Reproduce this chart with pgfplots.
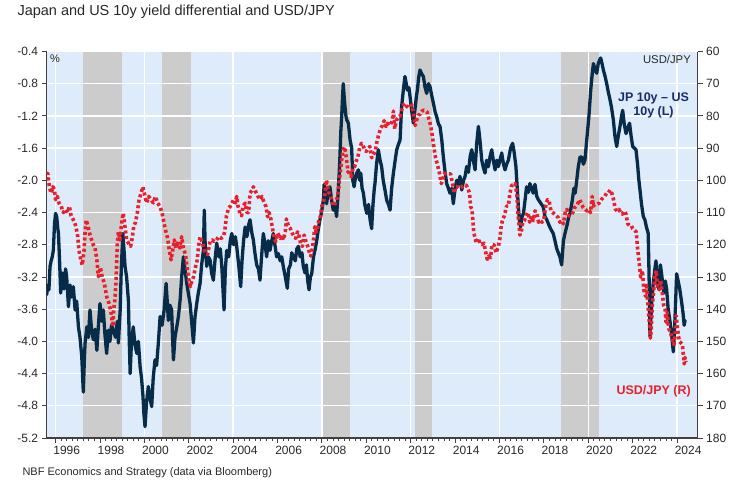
\documentclass[border=0pt]{standalone}
\usepackage{fontspec}
\setmainfont{Liberation Sans}
\usepackage{pgfplots}
\usepackage{pgfplotstable}
\pgfplotsset{compat=1.18}

\definecolor{bgblue}{RGB}{221,235,251}
\definecolor{bandgray}{RGB}{204,204,204}
\definecolor{navy}{RGB}{6,44,74}
\definecolor{navytext}{RGB}{24,44,104}
\definecolor{jpyred}{RGB}{232,32,44}
\definecolor{axisgray}{RGB}{64,64,64}
\definecolor{txtgray}{RGB}{40,40,40}

% JP 10y - US 10y spread (%), left axis
\pgfplotstableread{
yr v
1995.60 -3.42
1995.65 -3.30
1995.70 -3.36
1995.75 -3.07
1995.80 -3.00
1995.85 -2.95
1995.90 -2.87
1995.95 -2.55
1996.00 -2.41
1996.05 -2.45
1996.10 -2.60
1996.13 -2.66
1996.18 -3.00
1996.23 -3.40
1996.30 -3.15
1996.38 -3.35
1996.45 -3.10
1996.50 -3.20
1996.58 -3.57
1996.65 -3.30
1996.72 -3.45
1996.80 -3.32
1996.88 -3.61
1996.95 -3.50
1997.03 -3.82
1997.10 -3.95
1997.18 -4.19
1997.22 -4.45
1997.25 -4.63
1997.30 -4.20
1997.33 -4.02
1997.41 -3.82
1997.48 -3.95
1997.55 -3.61
1997.62 -3.85
1997.70 -3.98
1997.78 -3.85
1997.86 -4.11
1997.93 -3.80
1998.00 -3.53
1998.08 -3.75
1998.15 -3.61
1998.22 -3.90
1998.30 -4.15
1998.38 -3.86
1998.45 -4.00
1998.52 -3.80
1998.60 -3.86
1998.70 -3.95
1998.78 -3.75
1998.83 -4.02
1998.91 -3.61
1998.96 -3.10
1999.03 -2.66
1999.08 -2.85
1999.13 -3.07
1999.20 -3.20
1999.28 -3.49
1999.32 -4.00
1999.36 -4.40
1999.42 -4.00
1999.50 -3.82
1999.58 -4.05
1999.66 -4.15
1999.73 -4.00
1999.81 -4.32
1999.87 -4.45
1999.93 -4.65
1999.98 -4.90
2000.03 -5.06
2000.10 -4.75
2000.18 -4.56
2000.25 -4.70
2000.33 -4.81
2000.40 -4.45
2000.48 -4.23
2000.55 -4.30
2000.63 -4.02
2000.71 -3.69
2000.80 -3.80
2000.89 -3.61
2000.98 -3.28
2001.03 -3.50
2001.08 -3.74
2001.15 -3.55
2001.23 -3.61
2001.27 -3.95
2001.31 -4.23
2001.38 -3.95
2001.46 -3.82
2001.53 -3.70
2001.61 -3.49
2001.68 -3.20
2001.76 -2.95
2001.83 -3.10
2001.91 -3.28
2001.98 -3.40
2002.06 -3.53
2002.13 -3.75
2002.21 -4.02
2002.28 -3.70
2002.36 -3.53
2002.43 -3.40
2002.51 -3.28
2002.58 -3.05
2002.66 -2.87
2002.70 -2.37
2002.74 -2.80
2002.81 -3.07
2002.88 -2.95
2002.96 -2.99
2003.03 -3.15
2003.11 -3.24
2003.18 -3.00
2003.26 -2.78
2003.35 -2.95
2003.42 -2.85
2003.49 -3.07
2003.55 -3.40
2003.59 -3.61
2003.65 -3.10
2003.71 -2.87
2003.80 -2.95
2003.87 -2.75
2003.94 -2.66
2004.02 -2.80
2004.10 -2.70
2004.16 -2.82
2004.25 -3.05
2004.34 -3.32
2004.40 -3.00
2004.47 -2.75
2004.54 -2.58
2004.62 -2.70
2004.70 -2.55
2004.76 -2.49
2004.84 -2.65
2004.91 -2.74
2004.98 -2.90
2005.06 -3.05
2005.14 -3.10
2005.21 -3.24
2005.28 -2.95
2005.36 -2.66
2005.44 -2.80
2005.51 -2.95
2005.58 -2.75
2005.66 -2.87
2005.74 -2.75
2005.81 -2.66
2005.88 -2.80
2005.96 -2.95
2006.04 -2.91
2006.12 -3.00
2006.19 -2.95
2006.26 -3.07
2006.35 -3.20
2006.44 -3.34
2006.50 -3.10
2006.58 -3.05
2006.64 -2.90
2006.71 -2.95
2006.80 -3.00
2006.87 -2.85
2006.94 -2.82
2007.02 -2.95
2007.10 -2.90
2007.16 -3.07
2007.24 -3.15
2007.30 -3.05
2007.36 -3.25
2007.42 -3.36
2007.48 -3.20
2007.54 -3.16
2007.62 -2.95
2007.70 -2.85
2007.77 -2.74
2007.84 -2.60
2007.91 -2.49
2007.98 -2.40
2008.06 -2.25
2008.10 -2.05
2008.15 -2.20
2008.21 -2.29
2008.28 -2.15
2008.36 -2.08
2008.44 -2.25
2008.51 -2.37
2008.58 -2.30
2008.66 -2.45
2008.72 -2.20
2008.78 -1.90
2008.81 -1.71
2008.85 -1.40
2008.89 -1.21
2008.93 -0.95
2008.96 -0.80
2009.00 -0.95
2009.04 -1.09
2009.08 -1.20
2009.12 -1.25
2009.19 -1.29
2009.27 -1.50
2009.34 -1.60
2009.39 -2.00
2009.45 -2.08
2009.49 -2.00
2009.57 -1.91
2009.64 -1.87
2009.70 -2.00
2009.75 -1.91
2009.81 -2.10
2009.87 -2.16
2009.93 -2.30
2010.02 -2.41
2010.10 -2.30
2010.17 -2.49
2010.24 -2.60
2010.30 -2.30
2010.36 -2.10
2010.39 -2.04
2010.46 -1.80
2010.54 -1.62
2010.62 -1.75
2010.69 -1.83
2010.76 -2.00
2010.84 -2.12
2010.92 -2.25
2011.00 -2.30
2011.07 -2.37
2011.14 -2.10
2011.22 -1.91
2011.30 -1.75
2011.37 -1.62
2011.45 -1.55
2011.52 -1.50
2011.59 -1.09
2011.66 -0.90
2011.74 -0.71
2011.80 -0.80
2011.85 -0.88
2011.92 -0.85
2011.97 -0.96
2012.05 -1.15
2012.12 -1.29
2012.20 -1.10
2012.26 -0.95
2012.30 -0.88
2012.36 -0.72
2012.42 -0.63
2012.50 -0.68
2012.57 -0.71
2012.65 -0.85
2012.72 -0.92
2012.80 -0.80
2012.87 -0.84
2012.95 -0.95
2013.02 -1.04
2013.10 -1.15
2013.17 -1.21
2013.25 -1.30
2013.32 -1.33
2013.40 -1.50
2013.47 -1.71
2013.55 -1.90
2013.62 -2.04
2013.70 -2.10
2013.77 -2.16
2013.85 -2.10
2013.92 -2.29
2014.00 -2.10
2014.07 -2.00
2014.15 -2.05
2014.22 -1.95
2014.30 -2.12
2014.38 -2.00
2014.45 -1.95
2014.52 -1.83
2014.60 -1.90
2014.68 -1.70
2014.75 -1.62
2014.82 -1.75
2014.90 -1.87
2014.97 -1.55
2015.05 -1.33
2015.12 -1.50
2015.20 -1.75
2015.28 -1.85
2015.35 -1.91
2015.42 -1.75
2015.50 -1.83
2015.58 -1.70
2015.65 -1.62
2015.72 -1.75
2015.80 -1.87
2015.88 -1.75
2015.95 -1.83
2016.02 -1.75
2016.10 -1.66
2016.18 -1.80
2016.25 -1.87
2016.32 -1.80
2016.40 -1.75
2016.50 -1.60
2016.59 -1.54
2016.66 -1.65
2016.74 -1.83
2016.80 -2.10
2016.85 -2.33
2016.90 -2.50
2016.95 -2.58
2017.02 -2.45
2017.08 -2.41
2017.15 -2.25
2017.22 -2.08
2017.30 -2.15
2017.37 -2.04
2017.45 -2.10
2017.52 -2.16
2017.60 -2.05
2017.68 -2.20
2017.75 -2.24
2017.85 -2.28
2017.97 -2.33
2018.05 -2.45
2018.13 -2.49
2018.22 -2.55
2018.30 -2.60
2018.42 -2.66
2018.50 -2.75
2018.58 -2.85
2018.65 -2.90
2018.72 -2.95
2018.80 -3.05
2018.88 -2.75
2018.95 -2.66
2019.05 -2.55
2019.12 -2.45
2019.18 -2.41
2019.28 -2.25
2019.35 -2.10
2019.41 -2.16
2019.48 -2.00
2019.55 -1.83
2019.63 -1.71
2019.70 -1.71
2019.78 -1.80
2019.85 -1.75
2019.93 -1.50
2019.98 -1.35
2020.03 -1.20
2020.08 -1.00
2020.11 -0.88
2020.17 -0.70
2020.23 -0.55
2020.30 -0.62
2020.38 -0.67
2020.45 -0.55
2020.52 -0.50
2020.56 -0.48
2020.62 -0.55
2020.68 -0.63
2020.75 -0.70
2020.83 -0.80
2020.90 -0.90
2020.98 -1.00
2021.05 -1.10
2021.13 -1.25
2021.20 -1.45
2021.28 -1.58
2021.35 -1.45
2021.43 -1.33
2021.50 -1.20
2021.55 -1.13
2021.62 -1.30
2021.70 -1.42
2021.78 -1.35
2021.86 -1.29
2021.93 -1.45
2022.00 -1.58
2022.08 -1.60
2022.15 -1.62
2022.22 -1.80
2022.28 -2.00
2022.33 -2.12
2022.40 -2.30
2022.48 -2.45
2022.55 -2.49
2022.62 -2.58
2022.70 -2.66
2022.74 -3.20
2022.78 -3.94
2022.85 -3.55
2022.92 -3.30
2023.00 -3.10
2023.05 -3.00
2023.12 -3.25
2023.18 -3.35
2023.25 -3.05
2023.32 -3.20
2023.40 -3.40
2023.47 -3.25
2023.53 -3.35
2023.60 -3.60
2023.68 -3.75
2023.75 -3.90
2023.83 -4.13
2023.88 -3.90
2023.93 -3.55
2023.98 -3.16
2024.05 -3.25
2024.12 -3.35
2024.20 -3.50
2024.27 -3.65
2024.32 -3.80
2024.36 -3.74
}\spread

% USD/JPY, right axis (reversed)
\pgfplotstableread{
yr v
1995.60 99.9
1995.65 97.8
1995.72 102
1995.80 104
1995.88 102
1995.95 103
1996.00 106
1996.08 105
1996.15 107
1996.25 108
1996.35 110
1996.45 109
1996.55 110
1996.62 108
1996.70 111
1996.78 112
1996.85 113
1996.92 114.4
1997.00 117.5
1997.05 121.6
1997.12 124
1997.20 126.3
1997.28 122
1997.33 116
1997.38 112.3
1997.45 114
1997.53 116.4
1997.60 118
1997.70 120
1997.78 121
1997.86 124.7
1997.93 129.9
1998.02 127
1998.10 130
1998.20 132
1998.30 136.1
1998.40 138
1998.50 141
1998.58 145.4
1998.62 140
1998.67 137.2
1998.72 132
1998.78 120
1998.83 116
1998.90 118.5
1998.98 113
1999.05 110.2
1999.12 114
1999.20 118.5
1999.28 119.5
1999.38 120.5
1999.45 118
1999.52 114.4
1999.60 113
1999.68 110.2
1999.76 106
1999.85 104
1999.93 102
2000.00 104
2000.10 107
2000.20 105
2000.30 106
2000.40 107
2000.50 105
2000.60 107.1
2000.70 108
2000.80 110.2
2000.88 113
2000.95 115.4
2001.05 118
2001.12 121.6
2001.20 124.7
2001.27 122
2001.35 118.5
2001.42 121
2001.50 119.5
2001.60 121
2001.68 117.5
2001.76 121
2001.85 123
2001.92 126.8
2002.00 131
2002.08 133
2002.15 131
2002.22 129.9
2002.30 127
2002.38 124.7
2002.45 120
2002.51 117.5
2002.60 119
2002.66 120.6
2002.75 122.7
2002.85 123
2002.96 119
2003.05 118.5
2003.15 119
2003.25 118.5
2003.35 117.5
2003.45 118
2003.55 117.5
2003.62 116
2003.70 111
2003.80 108.5
2003.88 108
2003.94 107.1
2004.02 106
2004.10 107
2004.16 105
2004.22 108
2004.30 110.2
2004.38 111
2004.45 108
2004.54 107.1
2004.62 110
2004.70 110
2004.76 104
2004.85 103
2004.91 102
2004.98 103
2005.05 104
2005.12 105
2005.21 106
2005.30 105
2005.40 107
2005.48 108.2
2005.55 111.3
2005.62 110
2005.70 112
2005.76 114.4
2005.85 118
2005.92 119
2006.00 116.4
2006.05 117
2006.12 118
2006.20 117
2006.26 118.5
2006.35 116
2006.40 112
2006.50 114.4
2006.58 115
2006.66 116.4
2006.75 117.5
2006.82 118
2006.90 116
2006.98 117.5
2007.05 120
2007.12 120.5
2007.20 117
2007.28 119
2007.36 120.5
2007.45 122.7
2007.50 123.5
2007.58 121
2007.64 117
2007.68 114.4
2007.74 116
2007.80 115
2007.86 112.3
2007.93 111.3
2008.00 108
2008.06 107
2008.12 105
2008.20 99.9
2008.26 102
2008.32 104
2008.40 105
2008.48 107
2008.55 108
2008.65 106
2008.72 105
2008.80 99
2008.86 95.8
2008.90 93
2008.95 90.6
2009.02 89.6
2009.10 93
2009.18 97.5
2009.26 96.8
2009.32 99
2009.40 96
2009.47 95.8
2009.55 94
2009.62 92.7
2009.70 90
2009.78 88.5
2009.85 89
2009.92 90.6
2010.00 91
2010.08 90
2010.16 89.5
2010.24 93
2010.32 92
2010.40 91
2010.48 88
2010.55 86
2010.64 84
2010.72 83
2010.80 81.5
2010.88 83.3
2010.96 82.3
2011.05 83
2011.14 82
2011.20 80
2011.22 78.5
2011.28 84
2011.36 81.3
2011.45 80.5
2011.52 80.2
2011.60 78
2011.67 76.6
2011.74 76.1
2011.82 77
2011.90 77.5
2011.97 77.1
2012.05 76.6
2012.12 79
2012.20 83
2012.26 81.5
2012.35 79.7
2012.42 79.5
2012.50 78.6
2012.58 78.2
2012.66 78.4
2012.74 78.8
2012.82 81
2012.90 83
2012.97 86
2013.05 90
2013.12 93
2013.20 95
2013.30 98
2013.38 101
2013.45 100
2013.52 97.8
2013.60 98
2013.70 98
2013.80 98
2013.88 101
2013.95 104
2014.02 102
2014.10 102
2014.20 102.5
2014.30 102
2014.40 101.5
2014.50 101.5
2014.58 102.5
2014.65 104
2014.70 108.2
2014.76 109
2014.84 116
2014.90 118
2014.96 119.5
2015.05 118
2015.12 119.5
2015.20 120
2015.30 119.5
2015.40 123
2015.45 124.5
2015.52 123.5
2015.60 124
2015.66 120
2015.75 120
2015.85 122.5
2015.95 120.5
2016.02 118
2016.08 114
2016.15 112
2016.22 111
2016.32 108
2016.40 108
2016.47 104
2016.55 101.5
2016.62 101.5
2016.70 101
2016.78 104
2016.84 111
2016.92 117
2016.98 116
2017.05 113
2017.12 112.5
2017.20 111
2017.28 110
2017.36 113
2017.44 111
2017.52 112.5
2017.60 109.5
2017.68 110
2017.76 113
2017.84 112.5
2017.92 113
2018.00 112
2018.08 108
2018.16 106
2018.24 106.5
2018.32 109.5
2018.40 110
2018.48 110.5
2018.56 111
2018.64 111.5
2018.72 113
2018.80 112.5
2018.88 113.5
2018.96 110
2019.04 109
2019.12 111
2019.20 111
2019.30 110
2019.38 108.5
2019.46 108
2019.54 107
2019.62 106
2019.70 107.5
2019.78 108.5
2019.86 109
2019.94 109.5
2020.00 109
2020.10 110
2020.18 105
2020.22 108
2020.30 107.5
2020.40 107.5
2020.50 107
2020.58 106
2020.66 105.5
2020.74 105
2020.82 104
2020.90 104
2020.98 103
2021.06 104
2021.14 106
2021.22 109
2021.30 109.5
2021.38 109
2021.46 110
2021.54 110.5
2021.62 109.5
2021.70 110.5
2021.78 113.5
2021.86 114
2021.94 114
2022.00 115
2022.08 115.5
2022.16 116
2022.22 121
2022.30 126
2022.36 130
2022.44 128
2022.50 134
2022.58 136
2022.62 132
2022.68 138
2022.75 144
2022.80 149
2022.84 146
2022.88 139
2022.94 135
2023.00 130
2023.06 128
2023.12 133
2023.20 134
2023.26 131
2023.32 134
2023.40 139
2023.46 140
2023.50 144
2023.56 141
2023.62 146
2023.70 147
2023.78 149.5
2023.86 151
2023.92 147
2023.96 142
2024.02 146
2024.10 150
2024.18 150.5
2024.24 151
2024.28 154
2024.32 157
2024.36 155
2024.40 156.5
}\usdjpy

\begin{document}
\begin{tikzpicture}
\path (0pt,0pt) rectangle (740pt,485pt);

\begin{axis}[
  set layers,
  at={(46.7pt,47pt)}, anchor=south west,
  scale only axis, width=651pt, height=386.5pt,
  xmin=1995.6, xmax=2024.93, ymin=-5.2, ymax=-0.4,
  axis x line*=bottom, axis y line*=left,
  axis line style={draw=axisgray, line width=1.3pt, -},
  tick align=outside,
  tick style={draw=axisgray, line width=0.9pt},
  major tick length=5pt, minor tick length=3pt,
  xtick={1996,1998,...,2024}, minor x tick num=7,
  ytick={-5.2,-4.8,-4.4,-4.0,-3.6,-3.2,-2.8,-2.4,-2.0,-1.6,-1.2,-0.8,-0.4},
  /pgf/number format/assume math mode=true,
  ticklabel style={font=\fontsize{12}{14}\selectfont, text=txtgray},
  xticklabel style={/pgf/number format/1000 sep={}, xshift=11.1pt},
  yticklabel style={/pgf/number format/.cd, fixed, fixed zerofill, precision=1},
  ymajorgrids=true, xmajorgrids=false,
  major grid style={draw=white, line width=1.3pt},
  extra x ticks={1996,2000,2004,2008,2012,2016,2020,2024},
  extra x tick labels={},
  extra x tick style={grid=major, major tick length=0pt},
]
\addplot[fill=bgblue, draw=none, on layer=axis background]
  coordinates {(1995.6,-5.2) (2024.93,-5.2) (2024.93,-0.4) (1995.6,-0.4)};
\addplot[fill=bandgray, draw=none, on layer=axis background]
  coordinates {(1997.25,-5.2) (1999.0,-5.2) (1999.0,-0.4) (1997.25,-0.4)};
\addplot[fill=bandgray, draw=none, on layer=axis background]
  coordinates {(2000.8,-5.2) (2002.08,-5.2) (2002.08,-0.4) (2000.8,-0.4)};
\addplot[fill=bandgray, draw=none, on layer=axis background]
  coordinates {(2008.0,-5.2) (2009.25,-5.2) (2009.25,-0.4) (2008.0,-0.4)};
\addplot[fill=bandgray, draw=none, on layer=axis background]
  coordinates {(2012.2,-5.2) (2012.95,-5.2) (2012.95,-0.4) (2012.2,-0.4)};
\addplot[fill=bandgray, draw=none, on layer=axis background]
  coordinates {(2018.75,-5.2) (2020.5,-5.2) (2020.5,-0.4) (2018.75,-0.4)};
\addplot[navy, line width=3.3pt, line join=round, line cap=round] table[x=yr, y=v] {\spread};
\end{axis}

\begin{axis}[
  at={(46.7pt,47pt)}, anchor=south west,
  scale only axis, width=651pt, height=386.5pt,
  xmin=1995.6, xmax=2024.93, ymin=60, ymax=180, y dir=reverse,
  hide x axis, axis y line*=right,
  axis line style={draw=axisgray, line width=1.3pt, -},
  tick align=outside,
  tick style={draw=axisgray, line width=0.9pt},
  major tick length=5pt,
  ytick={60,70,...,180},
  /pgf/number format/assume math mode=true,
  ticklabel style={font=\fontsize{12}{14}\selectfont, text=txtgray},
]
\addplot[jpyred, line width=3.6pt, line join=round, dash pattern=on 3pt off 2.6pt] table[x=yr, y=v] {\usdjpy};
\end{axis}

\node[anchor=base west, font=\fontsize{14.5}{17}\selectfont, text=txtgray] at (14pt,469pt) {Japan and US 10y yield differential and USD/JPY};
\node[anchor=base west, font=\fontsize{11}{13}\selectfont, text=txtgray] at (19pt,9pt) {NBF Economics and Strategy (data via Bloomberg)};
\node[anchor=west, font=\fontsize{11}{13}\selectfont, text=txtgray, inner sep=0pt] at (50pt,426pt) {\%};
\node[anchor=east, font=\fontsize{11.3}{13}\selectfont, text=txtgray, inner sep=0pt] at (691pt,426pt) {USD/JPY};
\node[align=center, font=\bfseries\fontsize{12.5}{14.4}\selectfont, text=navytext, inner sep=0pt] at (653.5pt,379.5pt) {JP 10y – US\\10y (L)};
\node[font=\bfseries\fontsize{12.5}{14}\selectfont, text=jpyred, inner sep=0pt] at (653.7pt,94pt) {USD/JPY (R)};
\end{tikzpicture}
\end{document}
